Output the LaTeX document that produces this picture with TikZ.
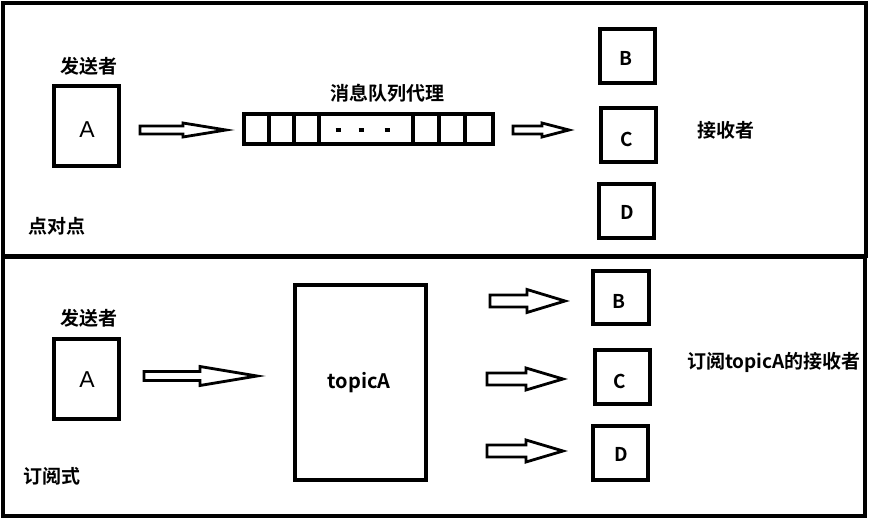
\documentclass[tikz,border=0pt]{standalone}
\usepackage{fontspec}
\setmainfont{Noto Sans CJK SC}
\newfontfamily\cjkb{Noto Sans CJK SC Bold}
\newfontfamily\latinA{Liberation Sans}
\tikzset{
  frame/.style={draw, line width=3.2pt},
  box/.style={draw, line width=3.2pt, inner sep=0pt},
  lbl/.style={inner sep=0pt, font=\cjkb\fontsize{19}{19}\selectfont},
  bigA/.style={inner sep=0pt, font=\latinA\fontsize{23}{23}\selectfont},
  barr/.style={draw, line width=2.8pt, line join=miter},
}
% block arrow: x1, x2 (tip), xm (head base), y, shaft half, head half
\newcommand\blockarrow[6]{%
  \draw[barr] (#1,#4-#5) -- (#3,#4-#5) -- (#3,#4-#6) -- (#2,#4) -- (#3,#4+#6) -- (#3,#4+#5) -- (#1,#4+#5) -- cycle;}
\begin{document}
\begin{tikzpicture}[x=1pt,y=-1pt]
\useasboundingbox (0,0) rectangle (871,524);
% frames
\draw[frame] (3,3) rectangle (866,256);
\draw[frame] (3,257) rectangle (865,516);

% ---------- top: point to point ----------
\node[lbl] (s1) at (89,66) {发送者};
\draw[box] (54,86) rectangle (119,166);
\node[bigA] (a1) at (87,130) {A};
\blockarrow{140}{226}{183}{130}{4}{7}
\draw[box] (244,114) rectangle (493,144);
\foreach \x in {269,294,319,413,439,465} \draw[line width=3.2pt] (\x,114) -- (\x,144);
\foreach \x in {338,361,387} \draw[line width=3.2pt] (\x-2.5,130) -- (\x+2.5,130);
\node[lbl] (q) at (387,93) {消息队列代理};
\blockarrow{513}{569}{542}{130}{4}{7}
\draw[box] (600,29) rectangle (655,83);
\node[lbl] (b1) at (626,58) {B};
\draw[box] (601,108) rectangle (656,162);
\node[lbl] (c1) at (627,139) {C};
\draw[box] (599,184) rectangle (654,238);
\node[lbl] (d1) at (627,212) {D};
\node[lbl] (r1) at (726,130) {接收者};
\node[lbl] (p2p) at (57,226) {点对点};

% ---------- bottom: publish/subscribe ----------
\node[lbl] (s2) at (89,318) {发送者};
\draw[box] (54,339) rectangle (119,419);
\node[bigA] (a2) at (87,380) {A};
\blockarrow{144}{257}{200}{376}{4.5}{9.5}
\draw[box] (295,285) rectangle (426,480);
\node[lbl, font=\cjkb\fontsize{20}{20}\selectfont] (t) at (359,383) {topicA};
\blockarrow{490}{565}{527}{301}{6}{11.5}
\blockarrow{487}{563}{526}{379}{6}{11}
\blockarrow{487}{563}{526}{451}{6}{11}
\draw[box] (593,271) rectangle (649,324);
\node[lbl] (b2) at (619,301) {B};
\draw[box] (595,350) rectangle (650,404);
\node[lbl] (c2) at (620,381) {C};
\draw[box] (593,426) rectangle (648,480);
\node[lbl] (d2) at (621,454) {D};
\node[lbl] (r2) at (774,362) {订阅topicA的接收者};
\node[lbl] (sub) at (52,476) {订阅式};
\end{tikzpicture}
\end{document}
